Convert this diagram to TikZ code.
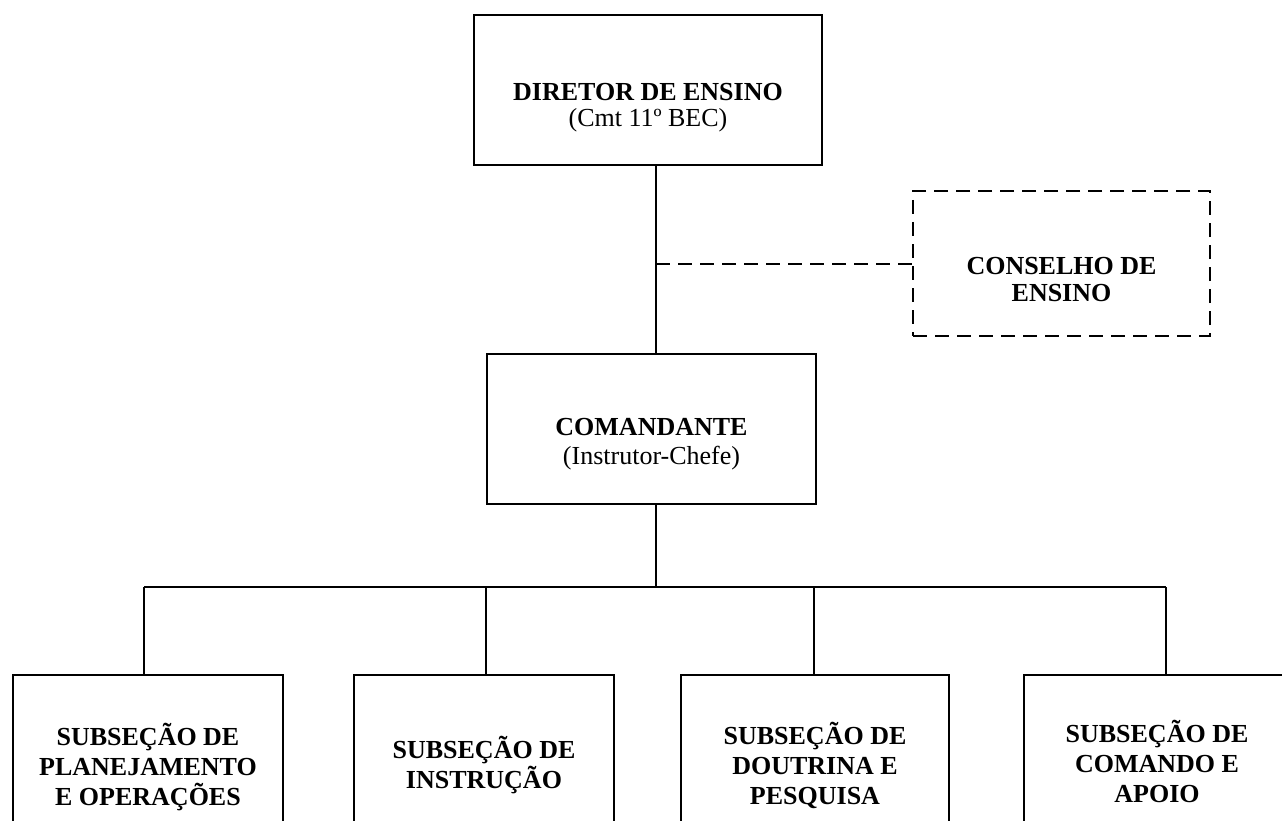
\documentclass[tikz,border=0pt]{standalone}
\usepackage{fontspec}
\setmainfont{Liberation Serif}
\begin{document}
\begin{tikzpicture}[x=1pt,y=-1pt,
  box/.style={draw=black, line width=2pt, rectangle, inner sep=0pt, fill=white},
  dbox/.style={box, dash pattern=on 14pt off 8pt},
  conn/.style={draw=black, line width=2pt},
  dconn/.style={conn, dash pattern=on 14pt off 8pt},
  lbl/.style={align=center, inner sep=0pt, font=\fontsize{26}{#1}\selectfont},
  lbl/.default=30,
  blbl/.style={align=center, inner sep=0pt, font=\fontsize{26}{#1}\selectfont\bfseries},
  blbl/.default=30]
\useasboundingbox (0,0) rectangle (1282,821);
\clip (0,0) rectangle (1282,821);
% boxes
\node[box, minimum width=348pt, minimum height=150pt] (dir) at (648,90) {};
\node[box, minimum width=329pt, minimum height=150pt] (com) at (651.5,429) {};
\node[dbox, minimum width=297pt, minimum height=145pt] (cons) at (1061.5,263.5) {};
\node[box, minimum width=270pt, minimum height=200pt] (b1) at (148,775) {};
\node[box, minimum width=260pt, minimum height=200pt] (b2) at (484,775) {};
\node[box, minimum width=268pt, minimum height=200pt] (b3) at (815,775) {};
\node[box, minimum width=266pt, minimum height=200pt] (b4) at (1157,775) {};
% texts
\node[lbl=26] (tdir) at (648,108) {\textbf{DIRETOR DE ENSINO}\\(Cmt 11º BEC)};
\node[lbl=29] (tcom) at (651.5,444.5) {\textbf{COMANDANTE}\\(Instrutor-Chefe)};
\node[blbl=27] (tcons) at (1061.5,280) {CONSELHO DE\\ENSINO};
\node[blbl=30] (tb1) at (148,767) {SUBSEÇÃO DE\\PLANEJAMENTO\\E OPERAÇÕES};
\node[blbl=30] (tb2) at (484,765.5) {SUBSEÇÃO DE\\INSTRUÇÃO};
\node[blbl=30] (tb3) at (815,765) {SUBSEÇÃO DE\\DOUTRINA E\\PESQUISA};
\node[blbl=30] (tb4) at (1157,761) {SUBSEÇÃO DE\\COMANDO E\\APOIO};
% connectors
\coordinate (spine) at (656,0);
\coordinate (bus) at (656,587);
\coordinate (j1) at (144,587);
\coordinate (j2) at (486,587);
\coordinate (j3) at (814,587);
\coordinate (j4) at (1166,587);
\draw[conn] (dir.south -| spine) -- (com.north -| spine);
\draw[dconn] (cons.west -| spine) -- (cons.west);
\draw[conn] (com.south -| spine) -- (bus);
\draw[conn] (j1) -- (j4);
\draw[conn] (j1) -- (j1 |- b1.north);
\draw[conn] (j2) -- (j2 |- b2.north);
\draw[conn] (j3) -- (j3 |- b3.north);
\draw[conn] (j4) -- (j4 |- b4.north);
\end{tikzpicture}
\end{document}
